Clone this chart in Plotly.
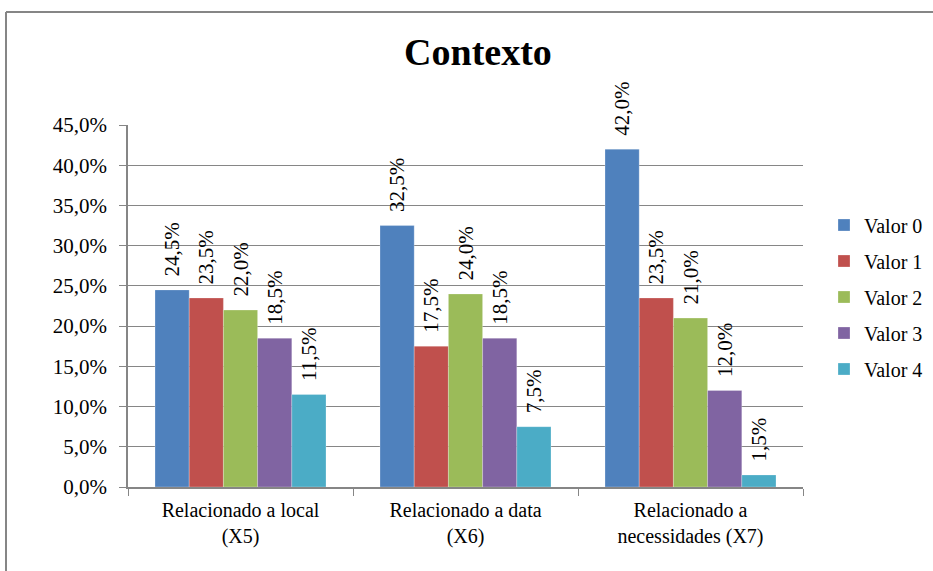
import plotly.graph_objects as go

categories = ["Relacionado a local<br>(X5)", "Relacionado a data<br>(X6)", "Relacionado a<br>necessidades (X7)"]
series_names = ["Valor 0", "Valor 1", "Valor 2", "Valor 3", "Valor 4"]
valor0 = [24.5, 32.5, 42.0]
valor1 = [23.5, 17.5, 23.5]
valor2 = [22.0, 24.0, 21.0]
valor3 = [18.5, 18.5, 12.0]
valor4 = [11.5, 7.5, 1.5]
series_values = [valor0, valor1, valor2, valor3, valor4]
colors = ["#4F81BD", "#C0504D", "#9BBB59", "#8064A2", "#4BACC6"]
y_ticks = [0, 5, 10, 15, 20, 25, 30, 35, 40, 45]

FONT = "Liberation Serif, Times New Roman, Times, serif"

fig = go.Figure()
for name, vals, col in zip(series_names, series_values, colors):
    fig.add_trace(go.Bar(
        x=categories, y=vals, name=name, legendgroup=name,
        marker=dict(color=col, line=dict(color="rgba(255,255,255,0.5)", width=0.5)),
        text=["\u00a0\u00a0" + f"{v:.1f}".replace(".", ",") + "%" for v in vals],
        textposition="outside", textangle=-90, constraintext="none",
        cliponaxis=False,
        textfont=dict(family=FONT, size=21, color="black"),
        hoverinfo="skip",
    ))

gray = "#868686"
fig.update_layout(
    width=933, height=571,
    margin=dict(l=128, r=130, t=125, b=84, autoexpand=False),
    paper_bgcolor="white", plot_bgcolor="white",
    barmode="group", bargap=0.24, bargroupgap=0,
    separators=",.",
    font=dict(family=FONT, size=20, color="black"),
    title=dict(text="<b>Contexto</b>", font=dict(family=FONT, size=38, color="black"),
               x=478/933, xanchor="center", y=1-52/571, yanchor="middle"),
    legend=dict(xref="container", x=824/933, xanchor="left",
                yref="container", y=1-297/571, yanchor="middle",
                font=dict(family=FONT, size=20, color="black"), tracegroupgap=7,
                bgcolor="rgba(0,0,0,0)"),
    showlegend=True,
)
fig.update_yaxes(range=[0, 45], tickvals=y_ticks,
                 ticktext=[f"{t:.1f}".replace(".", ",") + "%" for t in y_ticks],
                 showgrid=True, gridcolor=gray, gridwidth=1.3,
                 showline=True, linecolor=gray, linewidth=1.5,
                 ticks="outside", ticklen=7, tickcolor=gray, ticklabelstandoff=8,
                 tickfont=dict(family=FONT, size=21, color="black"), zeroline=False)
fig.update_xaxes(showline=True, linecolor=gray, linewidth=1.5,
                 ticks="outside", tickson="boundaries", ticklen=7, tickcolor=gray,
                 ticklabelstandoff=4,
                 tickfont=dict(family=FONT, size=20, color="black"))

# outer chart frame (partially cropped in the reference)
fig.add_shape(type="line", xref="paper", yref="paper",
              x0=(6-128)/675, x1=(6-128)/675, y0=(487-12)/362, y1=-0.4,
              line=dict(color=gray, width=2))
fig.add_shape(type="line", xref="paper", yref="paper",
              x0=(6-128)/675, x1=1.3, y0=(487-12)/362, y1=(487-12)/362,
              line=dict(color=gray, width=2))

fig.write_html("out.html")
